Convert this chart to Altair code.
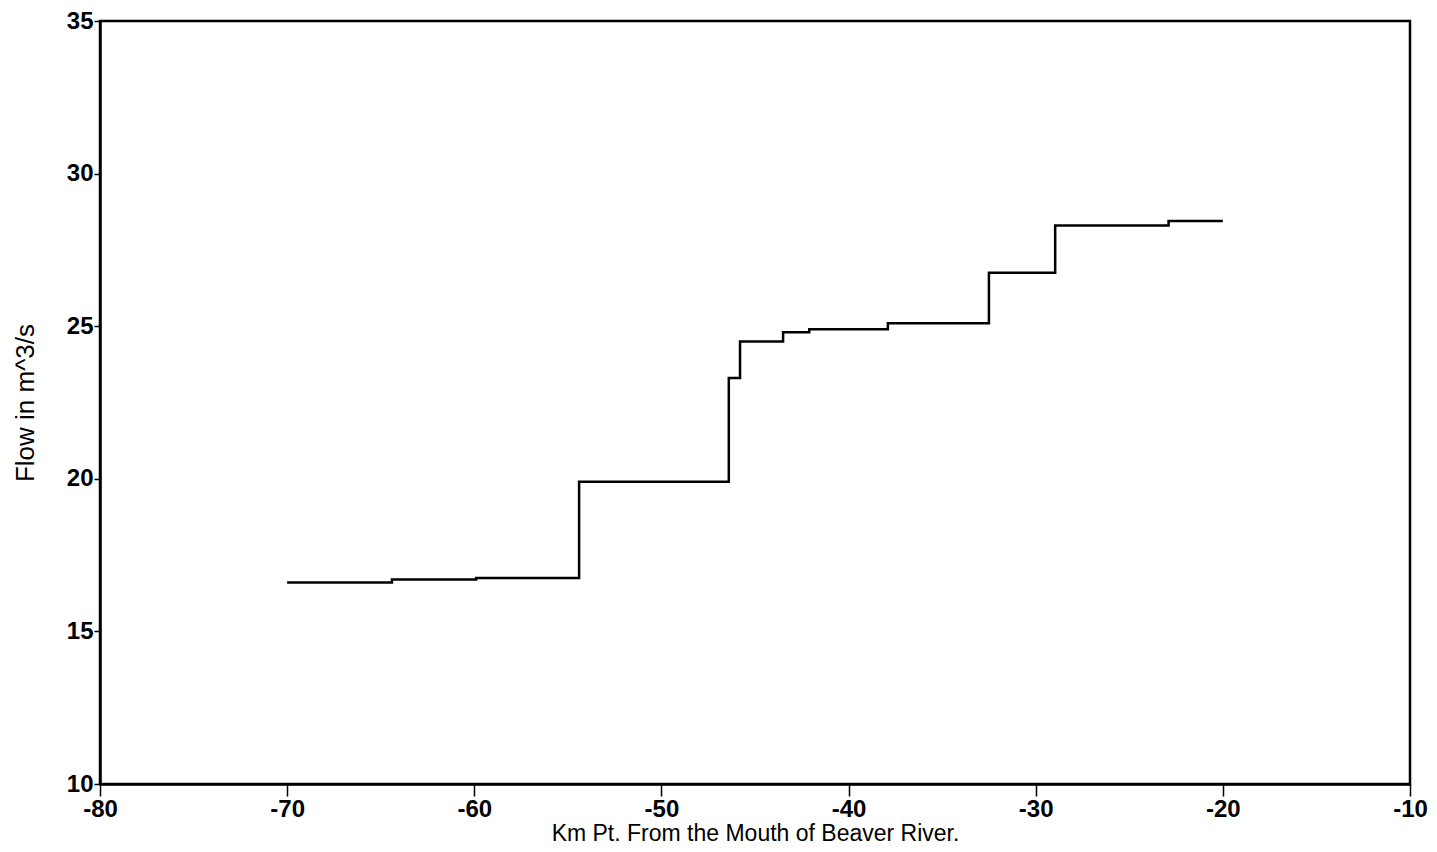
import altair as alt
import pandas as pd

km = [-70.0, -64.4, -59.9, -54.4, -46.4, -45.8, -43.5, -42.1, -37.9, -32.5, -28.96, -22.9, -20.0]
flow = [16.6, 16.7, 16.75, 19.9, 23.3, 24.5, 24.8, 24.9, 25.1, 26.75, 28.3, 28.45, 28.45]

x_ticks = [-80, -70, -60, -50, -40, -30, -20, -10]
y_ticks = [10, 15, 20, 25, 30, 35]

df = pd.DataFrame({"km": km, "flow": flow})

chart = alt.Chart(df).mark_line(
    interpolate="step-after", color="black", strokeWidth=2.5
).encode(
    x=alt.X("km:Q", title="Km Pt. From the Mouth of Beaver River.",
            scale=alt.Scale(domain=[-80, -10], nice=False, zero=False),
            axis=alt.Axis(values=x_ticks, grid=False, domainColor="black", domainWidth=2.5,
                          tickColor="black", tickWidth=1.5, tickSize=12,
                          labelExpr="'' + datum.value", labelFlush=False, labelOverlap=False,
                          labelFont="Liberation Sans", labelFontSize=24, labelColor="black",
                          labelFontWeight="bold", labelPadding=1,
                          titleFont="Liberation Sans", titleFontSize=23, titleFontWeight="normal",
                          titleColor="black", titlePadding=1)),
    y=alt.Y("flow:Q", title="Flow in m^3/s",
            scale=alt.Scale(domain=[10, 35], nice=False, zero=False),
            axis=alt.Axis(values=y_ticks, grid=False, domainColor="black", domainWidth=2.5,
                          tickColor="black", tickWidth=1.5, tickSize=6,
                          labelExpr="'' + datum.value", labelFlush=False, labelOverlap=False,
                          labelFont="Liberation Sans", labelFontSize=24, labelFontWeight="bold",
                          labelColor="black", labelPadding=1,
                          titleFont="Liberation Sans", titleFontSize=26, titleFontWeight="normal",
                          titleColor="black", titlePadding=28)),
).properties(
    width=1310, height=763,
    autosize=alt.AutoSizeParams(type="none"),
    padding={"left": 92, "top": 13, "right": 19, "bottom": 60},
).configure(
    background="white"
).configure_view(
    stroke="black", strokeWidth=2.5
)

chart.save("out.html", embed_options={"renderer": "svg", "actions": False})
